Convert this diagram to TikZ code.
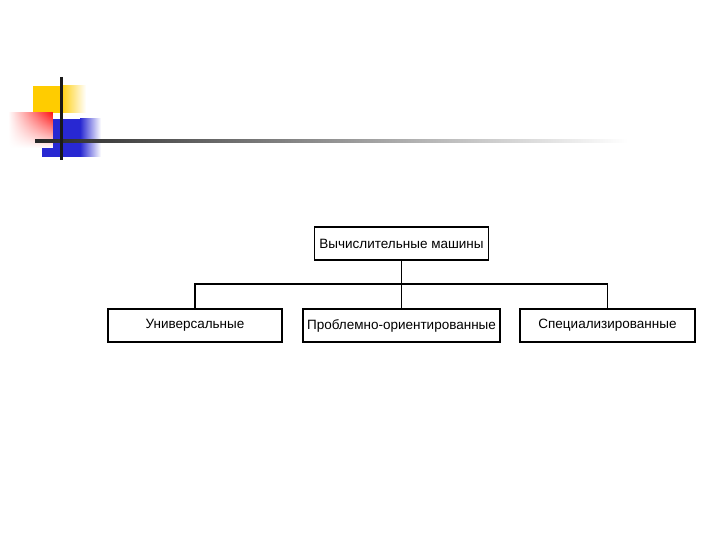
\documentclass[tikz,border=0pt]{standalone}
\usepackage{fontspec}
\setmainfont{Liberation Sans}
\usetikzlibrary{fadings}
\definecolor{decoyellow}{RGB}{255,204,0}
\definecolor{decored}{RGB}{255,20,20}
\definecolor{decoblue}{RGB}{40,40,210}

\begin{document}
\begin{tikzpicture}[x=1pt,y=-1pt,
  box/.style={draw=black,line width=1.3pt,minimum height=33,inner sep=0pt,font=\fontsize{13.5}{15}\selectfont},
  link/.style={draw=black,line width=1.3pt}]
\useasboundingbox (0,0) rectangle (720,540);

\fill[decoyellow] (33,86) rectangle (60,113);
\shade[left color=decoyellow,right color=white] (60,86) rectangle (86,113);
\fill[decoblue] (53,119) rectangle (80,157);
\fill[decoblue] (42,148) rectangle (53,157);
\shade[left color=decoblue,right color=white] (80,119) rectangle (101,157);
\shade[left color=white,right color=decored,path fading=south] (8,113) rectangle (53,148);
\shade[left color=black!85,right color=white] (35,139.5) rectangle (628,142.5);
\draw[line width=3pt,color=black!90] (61,77) -- (61,160);

\node[box,minimum width=174] (VM) at (401.5,243.5) {Вычислительные машины};
\node[box,minimum width=174] (UNI) at (195,325.5) {Универсальные};
\node[box,minimum width=197] (PRO) at (401.5,325.5) {Проблемно-ориентированные};
\node[box,minimum width=175] (SPEC) at (607.5,325.5) {Специализированные};
\coordinate (BUS) at (401.5,284);

\draw[link] (VM.south) -- (PRO.north);
\draw[link] (UNI.north) |- (BUS) -| (SPEC.north);
\end{tikzpicture}
\end{document}
